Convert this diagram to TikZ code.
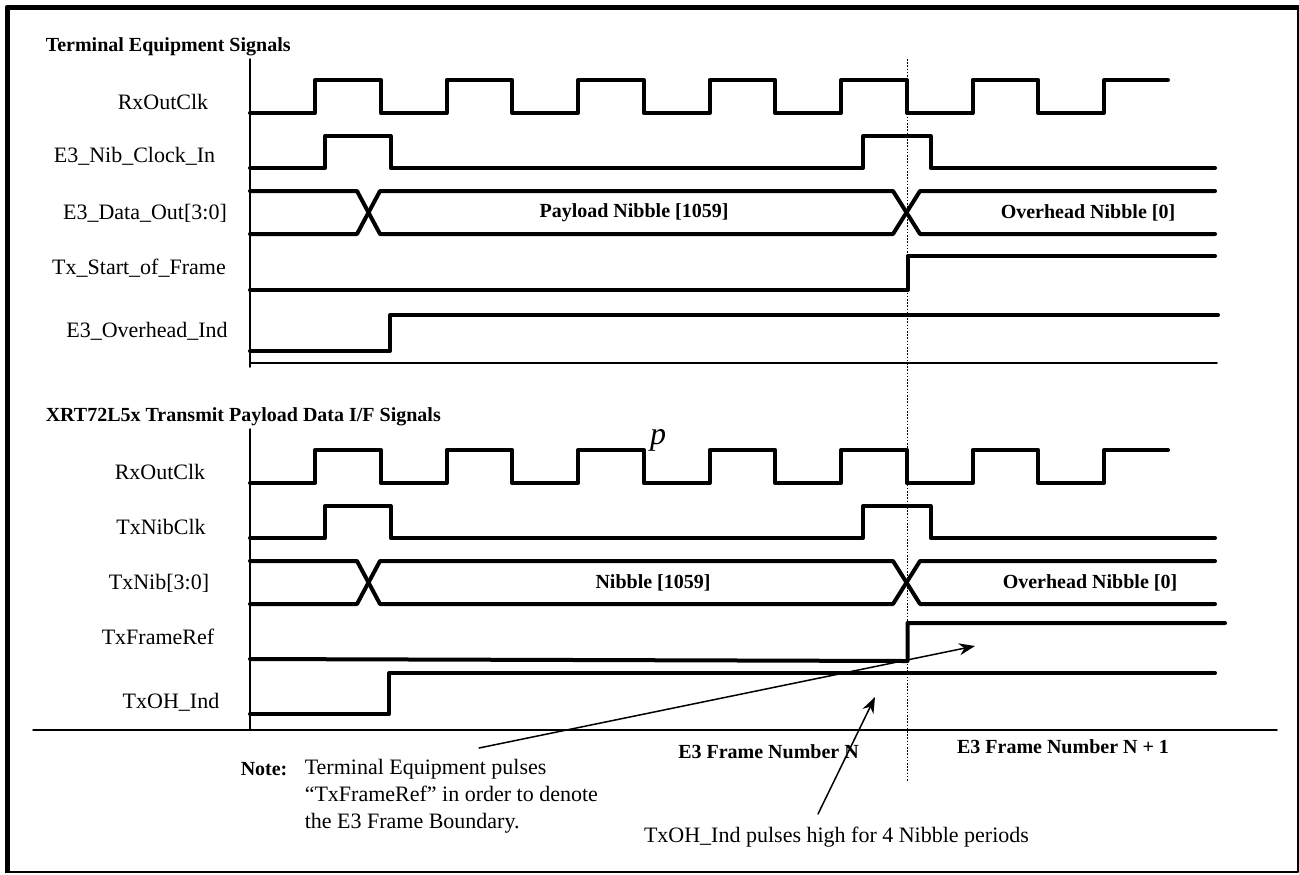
\documentclass[tikz,border=0pt]{standalone}
\usepackage{fontspec}
\setmainfont{Liberation Serif}
\usetikzlibrary{arrows.meta}

\tikzset{every picture/.style={line width=0.75pt},
  sig/.style={line width=2pt},
  thin/.style={line width=0.75pt},
  hdr/.style={font=\bfseries, anchor=west, inner sep=0pt},
  bus/.style={font=\bfseries}}

\begin{document}
\begin{tikzpicture}[x=0.5pt, y=-0.5pt, line join = round, line cap = round, >={Stealth[length=8pt,width=6pt]}, font=\fontsize{11pt}{13.5pt}\selectfont]
				\useasboundingbox (0,0) rectangle (1299,874);
				% frame
				\draw [line width=2.5pt, line cap=butt] (7,873) -- (7,7) -- (1299,7);
				\draw [line width=1.25pt, line cap=butt] (1298,7) -- (1298,872) -- (7,872);
				% headings
				\node[hdr] (topHdr) at (45,47) {Terminal Equipment Signals};
				\node[hdr] (botHdr) at (45,417) {XRT72L5x Transmit Payload Data I/F Signals};
				% axes
				\draw [thin] (250,59)--(250,367) (250,363)--(1217,363);
				\draw [thin] (250,429)--(250,730) (33,730)--(1277,730);
				\draw [line width=0.8pt, dash pattern=on 0.8pt off 0.8pt, line cap=butt] (907.5,59)--(907.5,782);
				% clocks, nibble clocks and buses, both sections
				\foreach \o in {0,370}{
				\draw [sig] (250,113+\o) -- (315,113+\o) foreach \k in {1,...,6}{ -- ++(0,-33) -- ++(65.75,0) -- ++(0,33) -- ++(65.75,0)} -- ++(0,-33) -- ++(64,0);
				\draw [sig] (250,168+\o) -| (325,136+\o) -| (390.5,168+\o) -| (863,136+\o) -| (930.5,168+\o) -- (1215,168+\o);
				\draw [sig] (250,191+\o) -- (357,191+\o) -- (380,234+\o) -- (893,234+\o) -- (920,191+\o) -- (1215,191+\o);
				\draw [sig] (250,234+\o) -- (357,234+\o) -- (380,191+\o) -- (893,191+\o) -- (920,234+\o) -- (1215,234+\o);
				}
				\draw [sig] (250,290) -| (907.5,256) -- (1215,256);
				\draw [sig] (250,351) -| (390,315) -- (1218,315);
				\draw [sig] (250,659) -- (907.5,661) -- (907.5,623) -- (1225,623);
				\draw [sig] (250,714) -| (389,673) -- (1215,673);
				% signal names
				\foreach \n/\x/\y/\t in {clkA/163/102/RxOutClk, nibA/134.5/156/{E3\_Nib\_Clock\_In}, datA/145/213/{E3\_Data\_Out[3:0]}, sofA/139/268/{Tx\_Start\_of\_Frame}, ohA/147/331/{E3\_Overhead\_Ind},
				  clkB/160/472/RxOutClk, nibB/161/527/TxNibClk, datB/159/583/{TxNib[3:0]}, frefB/158/637/TxFrameRef, ohB/171/702/{TxOH\_Ind}}
				  \node (\n) at (\x,\y) {\t};
				\node[bus] (payA) at (634,213) {Payload Nibble [1059]};
				\node[bus] (ovhA) at (1088,213) {Overhead Nibble [0]};
				\node[bus] (payB) at (653,583) {Nibble [1059]};
				\node[bus] (ovhB) at (1090,583) {Overhead Nibble [0]};
				\node[font=\fontsize{16pt}{16pt}\selectfont\itshape] (pmark) at (658,440) {p};
				\node[bus] (frN) at (768.5,752) {E3 Frame Number N};
				\node[bus] (frN1) at (1063,747) {E3 Frame Number N + 1};
				% notes
				\node[font=\bfseries, anchor=west, inner sep=0pt] (noteHd) at (240,769) {Note:};
				\node[align=left, anchor=west, inner sep=0pt] (noteTx) at (304,796) {Terminal Equipment pulses\\“TxFrameRef” in order to denote\\the E3 Frame Boundary.};
				\node (ohNote) at (836.5,837) {TxOH\_Ind pulses high for 4 Nibble periods};
				\path (479,748) coordinate (tailA) (975,646) coordinate (headA)
				      (818,814) coordinate (tailB) (875,697) coordinate (headB);
				\draw [->] (tailA)--(headA);
				\draw [->] (tailB)--(headB);
			\end{tikzpicture}
\end{document}
